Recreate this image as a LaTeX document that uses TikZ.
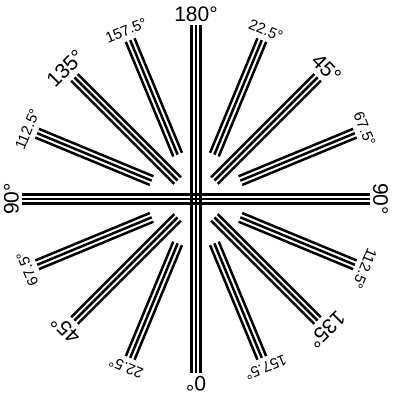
\documentclass[tikz,border=0pt]{standalone}
\usepackage{fontspec}
\setmainfont{Liberation Sans}
\tikzset{
  bar/.style={line width=2.5pt},
  biglbl/.style={font=\fontsize{21}{21}\selectfont,inner sep=0pt,anchor=south},
  smalllbl/.style={font=\fontsize{15}{15}\selectfont,inner sep=0pt,anchor=south}
}
\newcommand{\barsep}{4.7}

\begin{document}
\begin{tikzpicture}[x=1pt,y=1pt]
\useasboundingbox (-196,-202) rectangle (198,199);
% full cross
\foreach \o in {-\barsep,0,\barsep}{
  \draw[bar] (\o,-174) -- (\o,174);
  \draw[bar] (-174,\o) -- (174,\o);
}
% short groups
\foreach \a in {22.5,67.5,112.5,157.5,202.5,247.5,292.5,337.5}
  \foreach \o in {-\barsep,0,\barsep}
    \draw[bar,rotate=\a] (48,\o) -- (172,\o);
% diagonal groups
\foreach \a in {45,135,225,315}
  \foreach \o in {-\barsep,0,\barsep}
    \draw[bar,rotate=\a] (26,\o) -- (172,\o);
% labels
\foreach \p/\t/\s/\n in {90/180°/biglbl/lbtop, 67.5/22.5°/smalllbl/lbura,
    45/45°/biglbl/lburb, 22.5/67.5°/smalllbl/lburc, 0/90°/biglbl/lbright,
    -22.5/112.5°/smalllbl/lblra, -45/135°/biglbl/lblrb, -67.5/157.5°/smalllbl/lblrc,
    -90/0°/biglbl/lbbot, -112.5/22.5°/smalllbl/lblla, -135/45°/biglbl/lbllb,
    -157.5/67.5°/smalllbl/lbllc, 180/90°/biglbl/lbleft, 157.5/112.5°/smalllbl/lbula,
    135/135°/biglbl/lbulb, 112.5/157.5°/smalllbl/lbulc}
  \node[\s,rotate=\p-90] (\n) at (\p:177) {\t};
\end{tikzpicture}
\end{document}
